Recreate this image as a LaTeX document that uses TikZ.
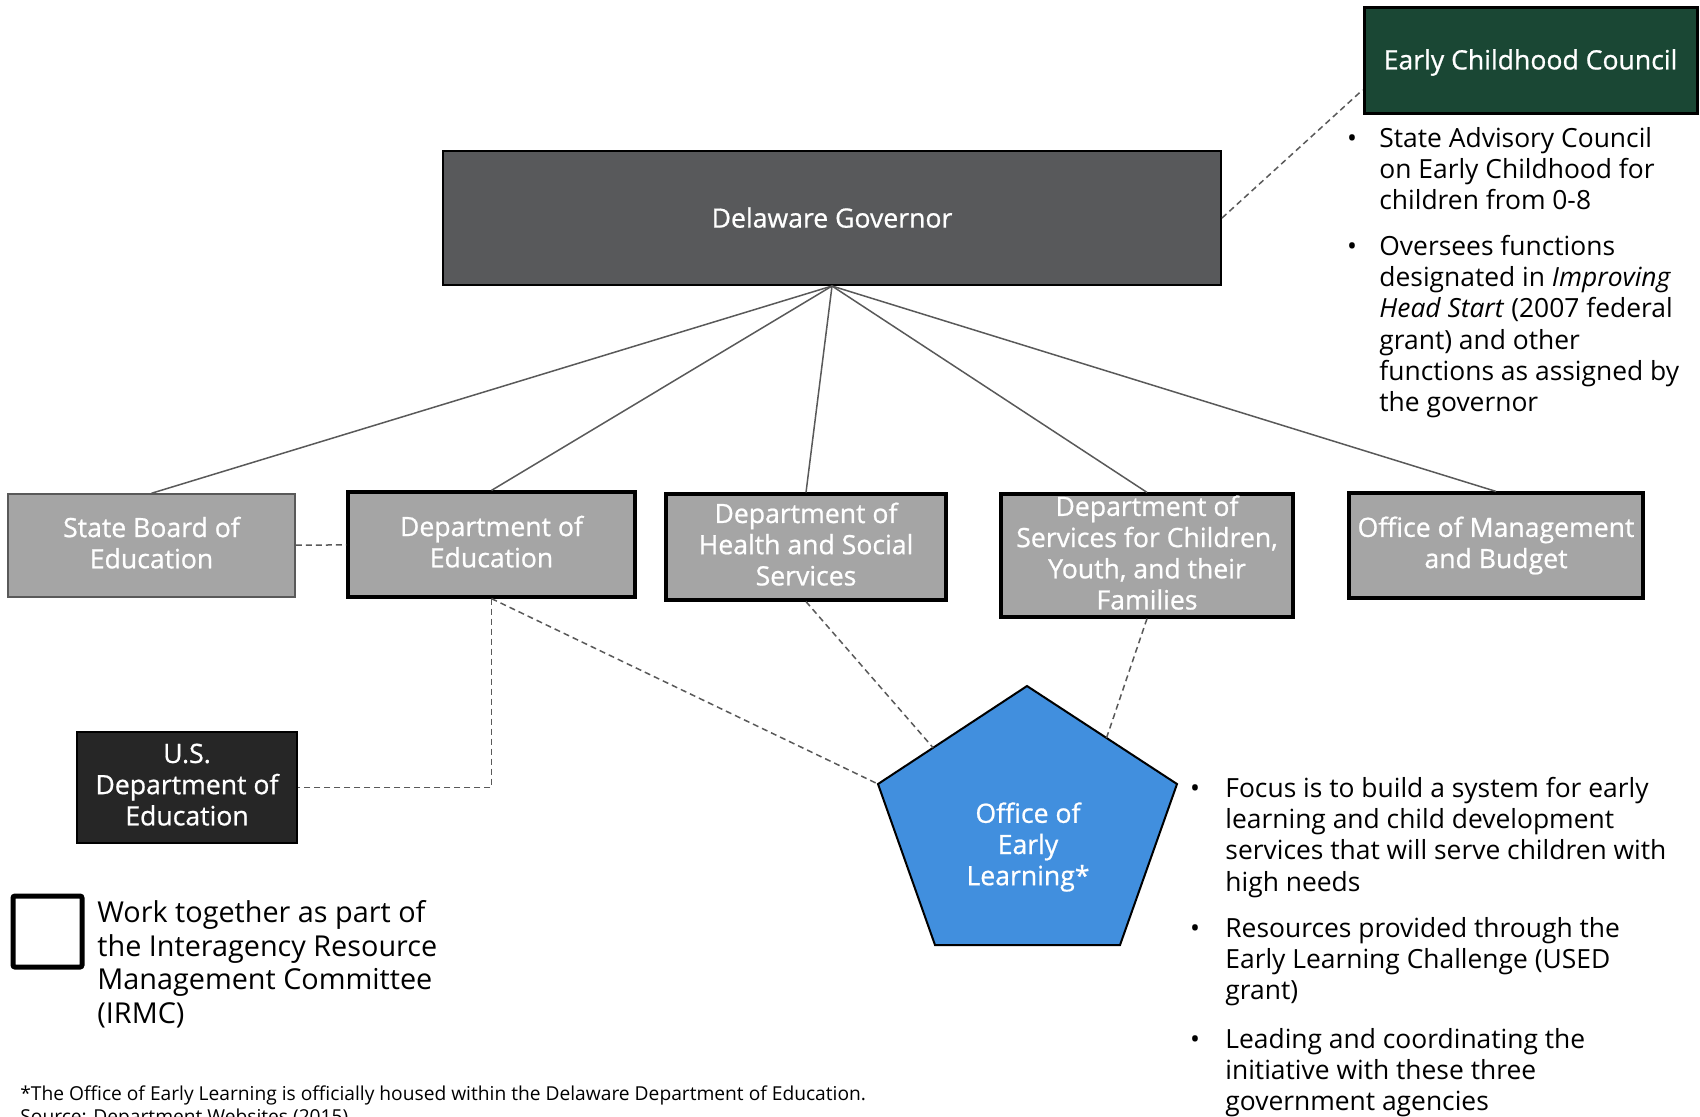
\documentclass[tikz,border=0pt]{standalone}
\usepackage{fontspec}
\setmainfont{Open Sans}
\newfontfamily\boxface{Open Sans}[FakeBold=0.8]
\usetikzlibrary{calc}
\definecolor{councilgreen}{RGB}{26,71,52}
\definecolor{govgray}{RGB}{88,89,91}
\definecolor{deptgray}{RGB}{165,165,165}
\definecolor{usdark}{RGB}{38,38,38}
\definecolor{oelblue}{RGB}{65,143,222}
\definecolor{linkgray}{RGB}{89,89,89}
\newcommand\boxfont{\boxface\fontsize{13.3}{15.6}\selectfont}
\newcommand\boxstrut{\rule[-3pt]{0pt}{15.6pt}}
\newcommand\notefont{\fontsize{13.2}{15.6}\selectfont}
\newcommand\keyfont{\fontsize{14.4}{16.8}\selectfont}
\begin{document}
\begin{tikzpicture}[x=0.5pt,y=-0.5pt,
  box/.style={draw=black,line width=1.6pt,fill=deptgray,text=white,align=center,inner sep=0pt,font=\boxfont,
    execute at begin node=\boxstrut,execute at end node=\boxstrut},
  tie/.style={draw=linkgray,line width=0.75pt},
  dashtie/.style={draw=linkgray,line width=0.75pt,dash pattern=on 3pt off 2pt},
  bul/.style={anchor=base,font=\notefont},
  note/.style={anchor=north west,align=left,inner sep=0pt,font=\notefont}]
\useasboundingbox (0,0) rectangle (1700,1116);
\node[box,fill=councilgreen,line width=1.5pt,minimum width=166.5pt,minimum height=53pt] (ecc) at (1530.5,60) {Early Childhood Council};
\node[box,fill=govgray,line width=1pt,minimum width=389pt,minimum height=67pt] (gov) at (832,218) {Delaware Governor};
\node[box,draw=linkgray,line width=0.75pt,minimum width=143.5pt,minimum height=51.5pt] (sbe) at (151.5,545.5) {State Board of\\Education};
\node[box,minimum width=143.5pt,minimum height=52.5pt] (doe) at (491.5,544.5) {Department of\\Education};
\node[box,minimum width=140pt,minimum height=53pt] (dhss) at (806,547) {Department of\\Health and Social\\Services};
\node[box,minimum width=146pt,minimum height=61.5pt] (dscyf) at (1147,555.5) {Department of\\Services for Children,\\Youth, and their\\Families};
\node[box,minimum width=147pt,minimum height=52.5pt] (omb) at (1496,545.5) {Office of Management\\and Budget};
\node[box,fill=usdark,line width=1pt,minimum width=110pt,minimum height=55.5pt] (usdoe) at (187,787.5) {U.S.\\Department of\\Education};
\coordinate (oel-t) at (1027,686);
\coordinate (oel-r) at (1177,784);
\coordinate (oel-br) at (1120,945);
\coordinate (oel-bl) at (935,945);
\coordinate (oel-l) at (878,784);
\coordinate (oel-dhss) at ($(oel-l)!0.37!(oel-t)$);
\coordinate (oel-dscyf) at ($(oel-t)!0.53!(oel-r)$);
\draw[fill=oelblue,line width=1pt] (oel-t)--(oel-r)--(oel-br)--(oel-bl)--(oel-l)--cycle;
\node[box,draw=none,fill=none] (oel) at (1028,847) {Office of\\Early\\Learning*};
\foreach \d in {sbe,doe,dhss,dscyf,omb} \draw[tie] (gov.south) -- (\d.north);
\draw[dashtie] (sbe) -- (doe);
\draw[dashtie] (doe.south) |- (usdoe.east);
\draw[dashtie] (doe.south) -- (oel-l);
\draw[dashtie] (dhss.south) -- (oel-dhss);
\draw[dashtie] (dscyf.south) -- (oel-dscyf);
\draw[dashtie] (gov.east) -- ([yshift=-15pt]ecc.west);
\node[bul] (b-sac) at (1352,147) {\textbullet};
\node[note] (sac) at (1379,125.2) {\strut State Advisory Council\\on Early Childhood for\\children from 0-8};
\node[bul] (b-over) at (1352,255) {\textbullet};
\node[note] (over) at (1379,233.2) {\strut Oversees functions\\designated in \textit{Improving}\\\textit{Head Start} (2007 federal\\grant) and other\\functions as assigned by\\the governor};
\node[bul] (b-focus) at (1195,797) {\textbullet};
\node[note] (focus) at (1225,775.2) {\strut Focus is to build a system for early\\learning and child development\\services that will serve children with\\high needs};
\node[bul] (b-res) at (1195,937) {\textbullet};
\node[note] (res) at (1225,915.2) {\strut Resources provided through the\\Early Learning Challenge (USED\\grant)};
\node[bul] (b-lead) at (1195,1048) {\textbullet};
\node[note] (lead) at (1225,1026.2) {\strut Leading and coordinating the\\initiative with these three\\government agencies};
\node[draw=black,line width=2.5pt,rounded corners=1pt,minimum width=34.5pt,minimum height=35.5pt,inner sep=0pt] (irmc-key) at (47.5,931.5) {};
\node[note,font=\keyfont] (irmc) at (97,898.5) {\strut Work together as part of\\the Interagency Resource\\Management Committee\\(IRMC)};
\node[note,font=\fontsize{9.6}{9.4}\selectfont] (foot) at (20,1085.8) {\strut *The Office of Early Learning is officially housed within the Delaware Department of Education.\\Source: Department Websites (2015)};
\end{tikzpicture}
\end{document}
